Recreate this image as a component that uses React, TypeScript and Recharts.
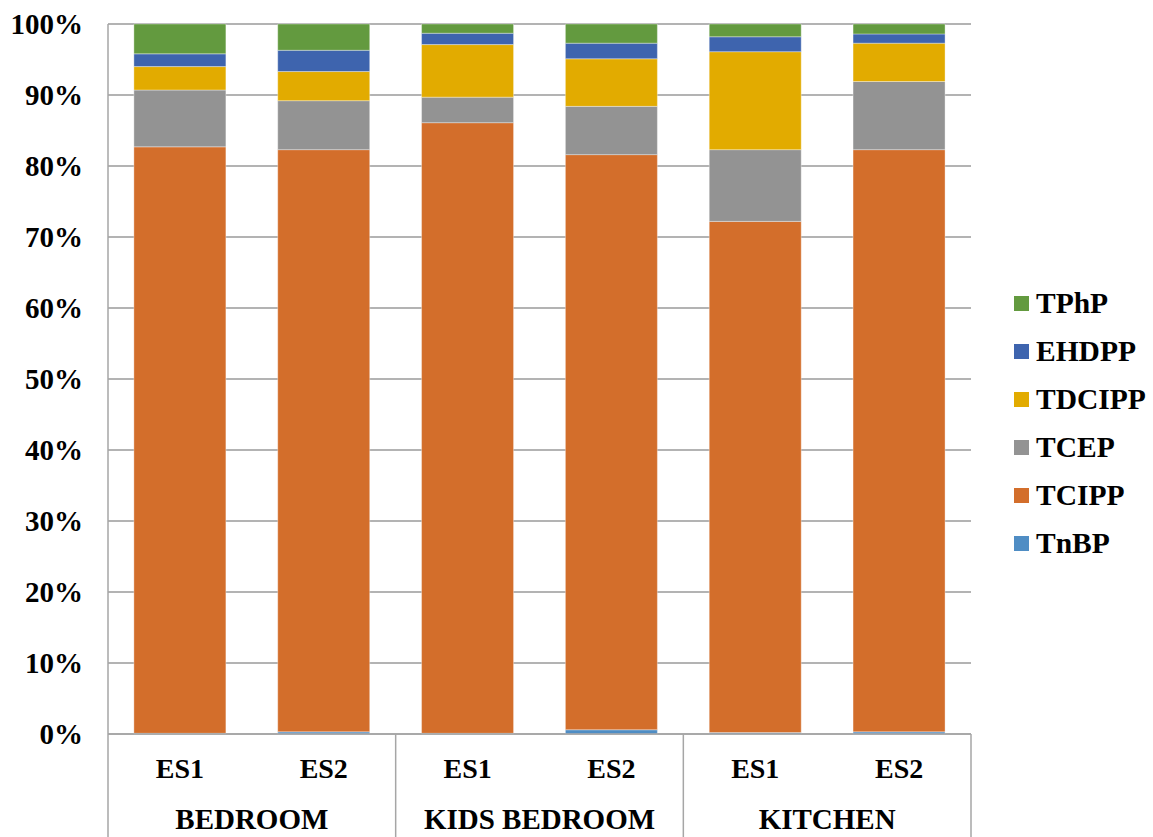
import React from "react";
import { BarChart, Bar, XAxis, YAxis, CartesianGrid, Legend } from "recharts";

// muestras y ambientes (eje X de dos niveles)
const samples = ["ES1", "ES2", "ES1", "ES2", "ES1", "ES2"];
const groups = ["BEDROOM", "BEDROOM", "KIDS BEDROOM", "KIDS BEDROOM", "KITCHEN", "KITCHEN"];

// % de cada compuesto por muestra
const TnBP = [0.1, 0.3, 0.1, 0.6, 0.2, 0.3];
const TCIPP = [82.6, 82.0, 86.0, 81.0, 72.0, 82.0];
const TCEP = [8.0, 6.9, 3.6, 6.8, 10.1, 9.6];
const TDCIPP = [3.3, 4.1, 7.4, 6.7, 13.8, 5.4];
const EHDPP = [1.8, 3.0, 1.6, 2.2, 2.1, 1.3];
const TPhP = [4.2, 3.7, 1.3, 2.7, 1.8, 1.4];

const yTicks = [0, 0.1, 0.2, 0.3, 0.4, 0.5, 0.6, 0.7, 0.8, 0.9, 1];

const series = [
  { key: "TnBP", values: TnBP, color: "#4f8dc4" },
  { key: "TCIPP", values: TCIPP, color: "#d36e2b" },
  { key: "TCEP", values: TCEP, color: "#939393" },
  { key: "TDCIPP", values: TDCIPP, color: "#e2ab00" },
  { key: "EHDPP", values: EHDPP, color: "#3e64ae" },
  { key: "TPhP", values: TPhP, color: "#639a3f" },
];

const data = samples.map((s, i) => {
  const row: Record<string, string | number> = { name: `${groups[i]} ${s} ${i}` };
  series.forEach((sr) => (row[sr.key] = sr.values[i]));
  return row;
});

const W = 1153;
const H = 837;
const MARGIN = { top: 24, right: 182, left: 0, bottom: 0 };
const Y_W = 108;
const X_H = 103;
const BAND = (W - MARGIN.left - MARGIN.right - Y_W) / samples.length;

const FONT = "'Liberation Serif', 'Times New Roman', serif";
const LINE = "#a6a6a6";

function SampleTick(props: any) {
  const { x, y, index } = props;
  const half = BAND / 2;
  const txt = { fontFamily: FONT, fontWeight: "bold" as const, fill: "#000" };
  return (
    <g>
      <text x={x} y={y + 34} dy="0.355em" textAnchor="middle" style={{ ...txt, fontSize: 28 }}>
        {samples[index]}
      </text>
      {index % 2 === 0 && (
        <text x={x + half} y={y + 85} dy="0.355em" textAnchor="middle" style={{ ...txt, fontSize: 29 }}>
          {groups[index]}
        </text>
      )}
      {index % 2 === 0 && (
        <line x1={x - half} x2={x - half} y1={y} y2={y + X_H} stroke={LINE} strokeWidth={1.5} />
      )}
      {index === samples.length - 1 && (
        <line x1={x + half} x2={x + half} y1={y} y2={y + X_H} stroke={LINE} strokeWidth={1.5} />
      )}
    </g>
  );
}

function Leyenda() {
  return (
    <div style={{ fontFamily: FONT, fontWeight: "bold", fontSize: 29.5, color: "#000" }}>
      {[...series].reverse().map((s) => (
        <div key={s.key} style={{ display: "flex", alignItems: "center", height: 48 }}>
          <span style={{ width: 15, height: 15, background: s.color, marginRight: 7, display: "inline-block" }} />
          <span style={{ lineHeight: "30px" }}>{s.key}</span>
        </div>
      ))}
    </div>
  );
}

export default function App() {
  return (
    <div style={{ position: "absolute", left: 0, top: 0, width: W, height: H, background: "#fff" }}>
      <BarChart
        width={W}
        height={H}
        data={data}
        margin={MARGIN}
        stackOffset="expand"
        barCategoryGap="18%"
      >
        <CartesianGrid vertical={false} stroke="#9a9a9a" strokeWidth={1.5} />
        <XAxis
          dataKey="name"
          interval={0}
          height={X_H}
          tickLine={false}
          tickSize={0}
          tickMargin={0}
          axisLine={{ stroke: LINE, strokeWidth: 1.5 }}
          tick={<SampleTick />}
        />
        <YAxis
          width={Y_W}
          domain={[0, 1]}
          ticks={yTicks}
          interval={0}
          tickLine={false}
          tickSize={0}
          tickMargin={25}
          axisLine={{ stroke: LINE, strokeWidth: 1.5 }}
          tickFormatter={(v: number) => `${Math.round(v * 100)}%`}
          tick={{ fontFamily: FONT, fontWeight: "bold", fontSize: 29, fill: "#000" }}
        />
        <Legend
          layout="vertical"
          align="center"
          verticalAlign="middle"
          wrapperStyle={{ left: 1014, top: 279, width: 139 }}
          content={<Leyenda />}
        />
        {series.map((s) => (
          <Bar
            key={s.key}
            dataKey={s.key}
            stackId="a"
            fill={s.color}
            stroke="rgba(255,255,255,0.35)"
            strokeWidth={1}
            isAnimationActive={false}
          />
        ))}
      </BarChart>
    </div>
  );
}
